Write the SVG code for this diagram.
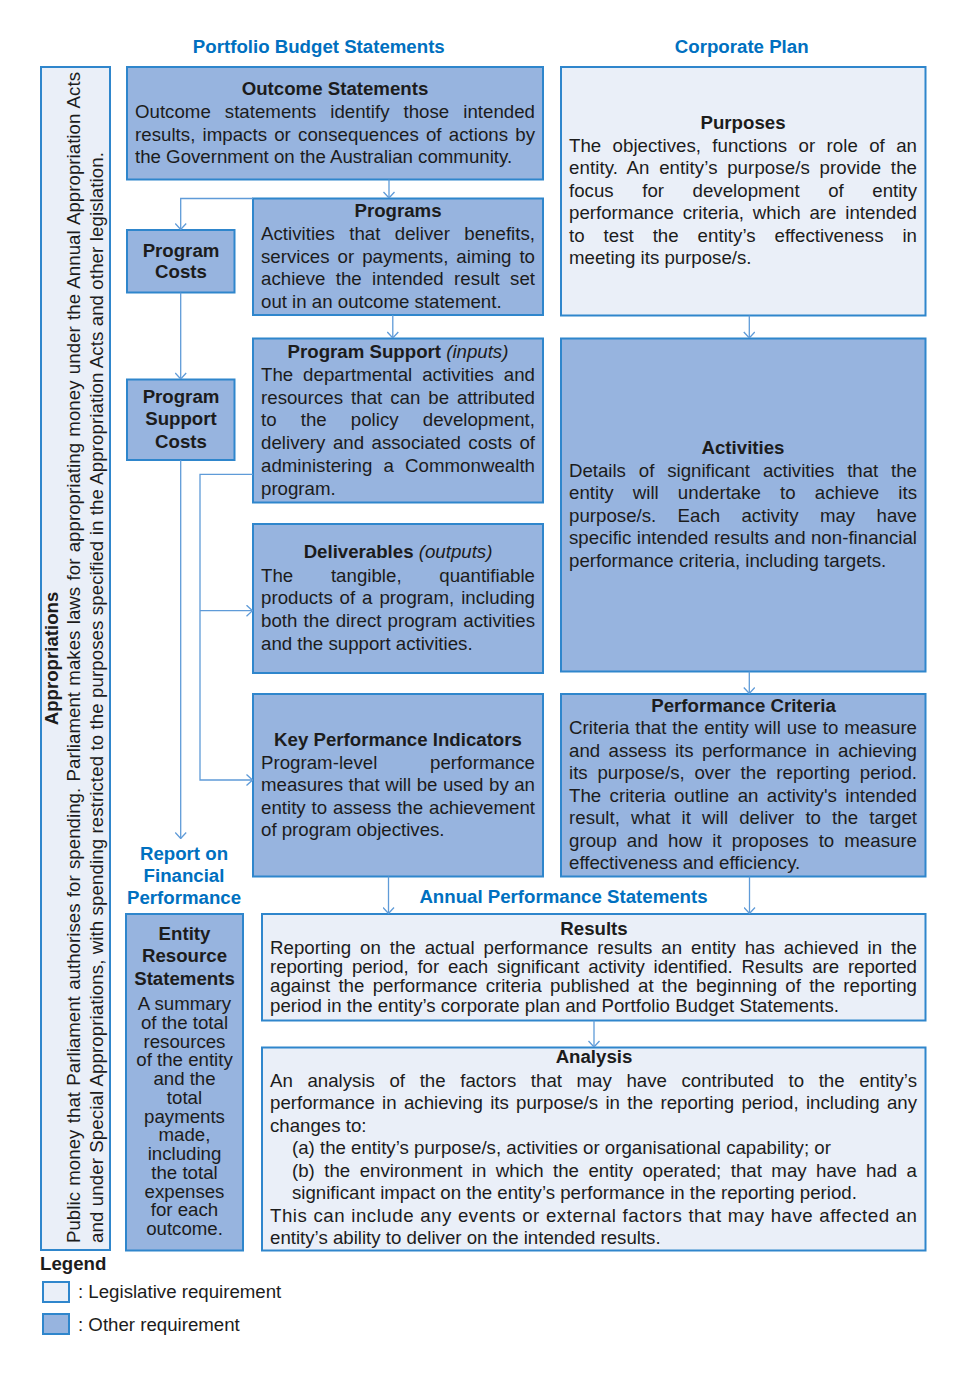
<svg xmlns="http://www.w3.org/2000/svg" width="966" height="1375" viewBox="0 0 966 1375">
<style>
text{font-family:"Liberation Sans",Arial,sans-serif;font-size:18.67px;fill:#1c1c1c}
.h{font-weight:bold}
.c{text-anchor:middle}
.i{font-style:italic;font-weight:normal}
.blue{fill:#0070C0;font-weight:bold}
.bd{fill:#97B4DF;stroke:#2F86CC;stroke-width:2}
.bl{fill:#EAEFF8;stroke:#2F86CC;stroke-width:2}
.conn{stroke:#5F9BD8;stroke-width:1.3;fill:none;marker-end:url(#arr)}
</style>
<defs>
<marker id="arr" viewBox="0 0 12 12" refX="12" refY="6" markerWidth="12" markerHeight="12" markerUnits="userSpaceOnUse" orient="auto">
<path d="M6,0.5 L12,6 L6,11.5" fill="none" stroke="#5F9BD8" stroke-width="1.3"/>
</marker>
</defs>
<rect width="966" height="1375" fill="#ffffff"/>

<g id="headers">
<text class="blue c" x="318.8" y="52.7">Portfolio Budget Statements</text>
<text class="blue c" x="741.7" y="52.7">Corporate Plan</text>
<text class="blue c" x="184" y="859.5">Report on</text>
<text class="blue c" x="184" y="881.7">Financial</text>
<text class="blue c" x="184" y="904">Performance</text>
<text class="blue c" x="563.5" y="903.3">Annual Performance Statements</text>
</g>

<g id="appropriations">
<rect class="bl" x="41" y="67" width="69" height="1183"/>
<text class="h c" transform="translate(58,658.5) rotate(-90)">Appropriations</text>
<text transform="translate(80,1243) rotate(-90)" textLength="1171" lengthAdjust="spacing" style="word-spacing:1.1px">Public money that Parliament authorises for spending. Parliament makes laws for appropriating money under the Annual Appropriation Acts</text>
<text transform="translate(103,1243) rotate(-90)" textLength="1091" lengthAdjust="spacing">and under Special Appropriations, with spending restricted to the purposes specified in the Appropriation Acts and other legislation.</text>
</g>

<g id="outcome-statements">
<rect class="bd" x="127" y="67" width="416" height="112.5"/>
<text class="h c" x="335" y="95">Outcome Statements</text>
<text x="135" y="118" textLength="400" lengthAdjust="spacing" style="word-spacing:8.8px">Outcome statements identify those intended</text>
<text x="135" y="140.5" textLength="400" lengthAdjust="spacing" style="word-spacing:2px">results, impacts or consequences of actions by</text>
<text x="135" y="163">the Government on the Australian community.</text>
</g>

<g id="programs">
<rect class="bd" x="253" y="198.5" width="290" height="116.5"/>
<text class="h c" x="398" y="217">Programs</text>
<text x="261" y="240" textLength="274" lengthAdjust="spacing" style="word-spacing:9.2px">Activities that deliver benefits,</text>
<text x="261" y="262.7" textLength="274" lengthAdjust="spacing" style="word-spacing:2.8px">services or payments, aiming to</text>
<text x="261" y="285.4" textLength="274" lengthAdjust="spacing" style="word-spacing:5.1px">achieve the intended result set</text>
<text x="261" y="308">out in an outcome statement.</text>
</g>

<g id="program-costs">
<rect class="bd" x="127" y="230" width="107.5" height="62.5"/>
<text class="h c" x="181" y="256.7">Program</text>
<text class="h c" x="181" y="278.3">Costs</text>
</g>

<g id="program-support-costs">
<rect class="bd" x="127" y="379.5" width="107.5" height="80.5"/>
<text class="h c" x="181" y="402.7">Program</text>
<text class="h c" x="181" y="425.3">Support</text>
<text class="h c" x="181" y="448">Costs</text>
</g>

<g id="program-support">
<rect class="bd" x="253" y="338.5" width="290" height="164"/>
<text class="h c" x="398" y="358.3">Program Support <tspan class="i">(inputs)</tspan></text>
<text x="261" y="381" textLength="274" lengthAdjust="spacing" style="word-spacing:4.7px">The departmental activities and</text>
<text x="261" y="403.7" textLength="274" lengthAdjust="spacing" style="word-spacing:2.75px">resources that can be attributed</text>
<text x="261" y="426.4" textLength="274" lengthAdjust="spacing" style="word-spacing:18.9px">to the policy development,</text>
<text x="261" y="449.1" textLength="274" lengthAdjust="spacing" style="word-spacing:2.25px">delivery and associated costs of</text>
<text x="261" y="471.8" textLength="274" lengthAdjust="spacing" style="word-spacing:6px">administering a Commonwealth</text>
<text x="261" y="494.5">program.</text>
</g>

<g id="deliverables">
<rect class="bd" x="253" y="524" width="290" height="149"/>
<text class="h c" x="398" y="558.3">Deliverables <tspan class="i">(outputs)</tspan></text>
<text x="261" y="581.5" textLength="274" lengthAdjust="spacing" style="word-spacing:32.5px">The tangible, quantifiable</text>
<text x="261" y="604.2" textLength="274" lengthAdjust="spacing" style="word-spacing:1.7px">products of a program, including</text>
<text x="261" y="626.9" textLength="274" lengthAdjust="spacing" style="word-spacing:0.95px">both the direct program activities</text>
<text x="261" y="649.6">and the support activities.</text>
</g>

<g id="kpi">
<rect class="bd" x="253" y="694" width="290" height="182.5"/>
<text class="h c" x="398" y="746">Key Performance Indicators</text>
<text x="261" y="768.5" textLength="274" lengthAdjust="spacing" style="word-spacing:47.5px">Program-level performance</text>
<text x="261" y="791" textLength="274" lengthAdjust="spacing" style="word-spacing:0.3px">measures that will be used by an</text>
<text x="261" y="813.5" textLength="274" lengthAdjust="spacing" style="word-spacing:0.7px">entity to assess the achievement</text>
<text x="261" y="836">of program objectives.</text>
</g>

<g id="purposes">
<rect class="bl" x="561" y="67" width="364.5" height="248.5"/>
<text class="h c" x="743" y="129">Purposes</text>
<text x="569" y="151.7" textLength="348" lengthAdjust="spacing" style="word-spacing:6.2px">The objectives, functions or role of an</text>
<text x="569" y="174.2" textLength="348" lengthAdjust="spacing" style="word-spacing:4.3px">entity. An entity’s purpose/s provide the</text>
<text x="569" y="196.7" textLength="348" lengthAdjust="spacing" style="word-spacing:23.3px">focus for development of entity</text>
<text x="569" y="219.2" textLength="348" lengthAdjust="spacing" style="word-spacing:3.6px">performance criteria, which are intended</text>
<text x="569" y="241.7" textLength="348" lengthAdjust="spacing" style="word-spacing:13.7px">to test the entity’s effectiveness in</text>
<text x="569" y="264.2">meeting its purpose/s.</text>
</g>

<g id="activities">
<rect class="bd" x="561" y="338.5" width="364.5" height="333"/>
<text class="h c" x="743" y="453.5">Activities</text>
<text x="569" y="476.5" textLength="348" lengthAdjust="spacing" style="word-spacing:7.8px">Details of significant activities that the</text>
<text x="569" y="499" textLength="348" lengthAdjust="spacing" style="word-spacing:13.9px">entity will undertake to achieve its</text>
<text x="569" y="521.5" textLength="348" lengthAdjust="spacing" style="word-spacing:16.1px">purpose/s. Each activity may have</text>
<text x="569" y="544" textLength="348" lengthAdjust="spacing" style="word-spacing:0.2px">specific intended results and non-financial</text>
<text x="569" y="566.5">performance criteria, including targets.</text>
</g>

<g id="performance-criteria">
<rect class="bd" x="561" y="694" width="364.5" height="182.5"/>
<text class="h c" x="743.5" y="711.7">Performance Criteria</text>
<text x="569" y="734.2" textLength="348" lengthAdjust="spacing" style="word-spacing:0.7px">Criteria that the entity will use to measure</text>
<text x="569" y="756.7" textLength="348" lengthAdjust="spacing" style="word-spacing:3.1px">and assess its performance in achieving</text>
<text x="569" y="779.2" textLength="348" lengthAdjust="spacing" style="word-spacing:4.5px">its purpose/s, over the reporting period.</text>
<text x="569" y="801.7" textLength="348" lengthAdjust="spacing" style="word-spacing:3.2px">The criteria outline an activity's intended</text>
<text x="569" y="824.2" textLength="348" lengthAdjust="spacing" style="word-spacing:5.9px">result, what it will deliver to the target</text>
<text x="569" y="846.7" textLength="348" lengthAdjust="spacing" style="word-spacing:4.8px">group and how it proposes to measure</text>
<text x="569" y="869.2">effectiveness and efficiency.</text>
</g>

<g id="results">
<rect class="bl" x="262" y="914" width="663.5" height="106.5"/>
<text class="h c" x="594" y="934.7">Results</text>
<text x="270" y="954" textLength="647" lengthAdjust="spacing" style="word-spacing:3.7px">Reporting on the actual performance results an entity has achieved in the</text>
<text x="270" y="973.2" textLength="647" lengthAdjust="spacing" style="word-spacing:3.8px">reporting period, for each significant activity identified. Results are reported</text>
<text x="270" y="992.4" textLength="647" lengthAdjust="spacing" style="word-spacing:3.1px">against the performance criteria published at the beginning of the reporting</text>
<text x="270" y="1011.6">period in the entity’s corporate plan and Portfolio Budget Statements.</text>
</g>

<g id="analysis">
<rect class="bl" x="262" y="1047.5" width="663.5" height="203"/>
<text class="h c" x="594" y="1063.3">Analysis</text>
<text x="270" y="1086.7" textLength="647" lengthAdjust="spacing" style="word-spacing:9.4px">An analysis of the factors that may have contributed to the entity’s</text>
<text x="270" y="1109.2" textLength="647" lengthAdjust="spacing" style="word-spacing:2.1px">performance in achieving its purpose/s in the reporting period, including any</text>
<text x="270" y="1131.7">changes to:</text>
<text x="292" y="1154.2">(a) the entity’s purpose/s, activities or organisational capability; or</text>
<text x="292" y="1176.7" textLength="625" lengthAdjust="spacing" style="word-spacing:4.3px">(b) the environment in which the entity operated; that may have had a</text>
<text x="292" y="1199.2">significant impact on the entity’s performance in the reporting period.</text>
<text x="270" y="1221.7" textLength="647" lengthAdjust="spacing" style="word-spacing:0.4px">This can include any events or external factors that may have affected an</text>
<text x="270" y="1244">entity’s ability to deliver on the intended results.</text>
</g>

<g id="entity-resource-statements">
<rect class="bd" x="126" y="914" width="117" height="336.5"/>
<text class="h c" x="184.5" y="940">Entity</text>
<text class="h c" x="184.5" y="962.3">Resource</text>
<text class="h c" x="184.5" y="984.6">Statements</text>
<text class="c" x="184.5" y="1010">A summary</text>
<text class="c" x="184.5" y="1028.75">of the total</text>
<text class="c" x="184.5" y="1047.5">resources</text>
<text class="c" x="184.5" y="1066.25">of the entity</text>
<text class="c" x="184.5" y="1085">and the</text>
<text class="c" x="184.5" y="1103.75">total</text>
<text class="c" x="184.5" y="1122.5">payments</text>
<text class="c" x="184.5" y="1141.25">made,</text>
<text class="c" x="184.5" y="1160">including</text>
<text class="c" x="184.5" y="1178.75">the total</text>
<text class="c" x="184.5" y="1197.5">expenses</text>
<text class="c" x="184.5" y="1216.25">for each</text>
<text class="c" x="184.5" y="1235">outcome.</text>
</g>

<g id="connectors">
<path class="conn" d="M389,179.5 V198"/>
<path class="conn" d="M253,198.5 H180.7 V229.5"/>
<path class="conn" d="M180.7,292.5 V379"/>
<path class="conn" d="M180.7,460 V838.5"/>
<path class="conn" d="M392.8,315 V338"/>
<path class="conn" d="M253,474.3 H200 V780 H252.5"/>
<path class="conn" d="M200,610.7 H252.5"/>
<path class="conn" d="M749.3,315.5 V338"/>
<path class="conn" d="M749.3,671.5 V693.5"/>
<path class="conn" d="M388.5,876.5 V913.5"/>
<path class="conn" d="M749.5,876.5 V913.5"/>
<path class="conn" d="M594,1020.5 V1047"/>
</g>

<g id="legend">
<text class="h" x="40" y="1270">Legend</text>
<rect class="bl" x="43" y="1282" width="26" height="20"/>
<text x="78" y="1298">: Legislative requirement</text>
<rect class="bd" x="43" y="1314" width="26" height="20"/>
<text x="78" y="1331">: Other requirement</text>
</g>
</svg>
